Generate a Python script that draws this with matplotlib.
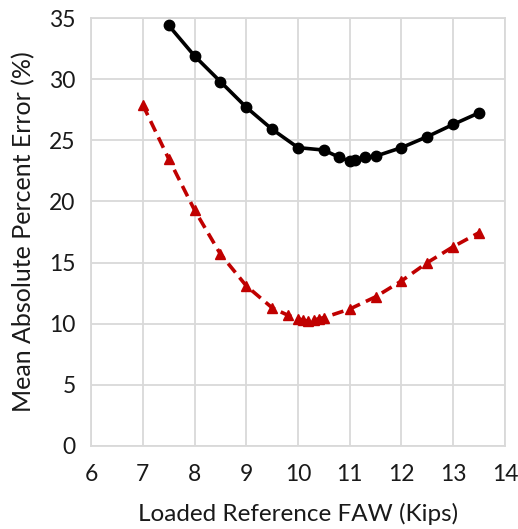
import matplotlib
matplotlib.use('Agg')
import matplotlib.pyplot as plt

# black series (circles)
faw_black = [7.5, 8, 8.5, 9, 9.5, 10, 10.5, 10.8, 11.0, 11.1, 11.3, 11.5, 12, 12.5, 13, 13.5]
mape_black = [34.4, 31.9, 29.8, 27.7, 25.9, 24.4, 24.2, 23.6, 23.3, 23.4, 23.6, 23.7, 24.4, 25.3, 26.3, 27.25]

# red series (triangles, dashed)
faw_red = [7, 7.5, 8, 8.5, 9, 9.5, 9.8, 10, 10.1, 10.2, 10.3, 10.4, 10.5, 11, 11.5, 12, 12.5, 13, 13.5]
mape_red = [27.9, 23.5, 19.3, 15.7, 13.1, 11.3, 10.7, 10.4, 10.3, 10.2, 10.3, 10.4, 10.5, 11.2, 12.2, 13.5, 15.0, 16.3, 17.45]

xticks = [6, 7, 8, 9, 10, 11, 12, 13, 14]
yticks = [0, 5, 10, 15, 20, 25, 30, 35]

plt.rcParams['font.family'] = ['Lato', 'DejaVu Sans']
grid_col = '#d9d9d9'
txt_col = '#1a1a1a'

fig = plt.figure(figsize=(5.18, 5.29), dpi=100)
ax = fig.add_axes([91 / 518, 83 / 529, 414 / 518, 428 / 529])

ax.plot(faw_black, mape_black, color='black', lw=2.6, marker='o', ms=7.5, zorder=3)
ax.plot(faw_red, mape_red, color='#c00000', lw=2.6, ls=(0, (3.2, 1.8)), marker='^', ms=7.5, zorder=3)

ax.set_xlim(6, 14)
ax.set_ylim(0, 35)
ax.set_xticks(xticks)
ax.set_yticks(yticks)
ax.grid(True, color=grid_col, lw=1.3)
ax.set_axisbelow(True)
for s in ax.spines.values():
    s.set_color(grid_col)
    s.set_linewidth(1.3)
ax.tick_params(length=0, labelsize=16.5, colors=txt_col)
ax.tick_params(axis='y', pad=11)
ax.tick_params(axis='x', pad=13)

ax.set_xlabel('Loaded Reference FAW (Kips)', fontsize=17.5, labelpad=13, color=txt_col)
ax.set_ylabel('Mean Absolute Percent Error (%)', fontsize=18, labelpad=10, color=txt_col)

fig.savefig('out.png', dpi=100)
